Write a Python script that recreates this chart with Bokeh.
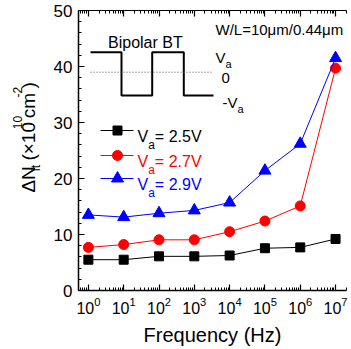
import math
from bokeh.plotting import figure
from bokeh.layouts import row
from bokeh.models import (Range1d, LogAxis, FixedTicker, Label, CustomJSTickFormatter)
from bokeh.core.properties import value
from bokeh.embed import file_html
from bokeh.resources import INLINE

# ---------------- data ----------------
freq_exp = [0, 1, 2, 3, 4, 5, 6, 7]
frequency = [10.0 ** k for k in freq_exp]
dn_25 = [5.5, 5.5, 6.1, 6.1, 6.25, 7.55, 7.7, 9.2]
dn_27 = [7.7, 8.2, 9.05, 9.05, 10.5, 12.4, 15.1, 39.7]
dn_29 = [13.5, 13.1, 13.8, 14.3, 15.7, 21.4, 26.2, 41.5]
series_values = [dn_25, dn_27, dn_29]
series_labels = ["2.5V", "2.7V", "2.9V"]
series_colors = ["black", "red", "blue"]
series_markers = ["square", "circle", "triangle"]
series_sizes = [9, 10, 12]
y_ticks = [0, 10, 20, 30, 40, 50]
y_minor = [2, 4, 6, 8, 12, 14, 16, 18, 22, 24, 26, 28, 32, 34, 36, 38, 42, 44, 46, 48]
x_minor = [m * 10.0 ** k for k in range(-1, 8) for m in range(2, 10)]

FONT = "Liberation Sans"

# ---------------- layout geometry (pixels) ----------------
W, H = 351, 349
LW = 50                 # width of the left strip holding the y title
FX0, FX1 = 78, 346      # frame left / right (page coordinates)
FY0, FY1 = 10, 290      # frame top / bottom
LX0, LX1 = -0.28, 7.31  # log10 range of x
Y0, Y1 = 0, 50


def xd(px):
    return 10 ** (LX0 + (px - FX0) / (FX1 - FX0) * (LX1 - LX0))


def yd(py):
    return Y0 + (FY1 - py) / (FY1 - FY0) * (Y1 - Y0)


CW = {' ': .278, '(': .333, ')': .333, '-': .333, '.': .278, '/': .278, '=': .584,
      '×': .584, 'Δ': .668, 'N': .722, 'V': .667, 'a': .556, 'c': .5, 'm': .833,
      'i': .222, 't': .278, 'W': .944, 'L': .556, 'μ': .576, 'B': .667, 'p': .556,
      'o': .556, 'l': .222, 'r': .333, 'T': .611}


def tw(s, size):
    return sum(CW.get(ch, .556) for ch in s) * size


p = figure(width=W - LW, height=H, x_axis_type="log",
           x_range=Range1d(10 ** LX0, 10 ** LX1), y_range=Range1d(Y0, Y1),
           output_backend="svg", toolbar_location=None,
           min_border_left=FX0 - LW, min_border_right=W - FX1,
           min_border_top=FY0, min_border_bottom=H - FY1)
p.outline_line_color = None
p.xgrid.visible = False
p.ygrid.visible = False
p.background_fill_color = "white"
p.border_fill_color = "white"


def style_axis(ax):
    ax.axis_line_color = "black"
    ax.axis_line_width = 1.5
    ax.major_tick_line_color = "black"
    ax.minor_tick_line_color = "black"
    ax.major_tick_line_width = 1.2
    ax.major_tick_in = 6
    ax.major_tick_out = 0
    ax.minor_tick_in = 3
    ax.minor_tick_out = 0
    ax.major_label_text_font = FONT
    ax.major_label_text_color = "black"


xt = FixedTicker(ticks=frequency, minor_ticks=x_minor)
xa = p.xaxis[0]
xa.ticker = xt
style_axis(xa)
xa.major_label_text_font_size = "16px"
xa.major_label_standoff = 6
xa.axis_label = "Frequency (Hz)"
xa.axis_label_text_font = FONT
xa.axis_label_text_font_size = "20px"
xa.axis_label_text_font_style = "normal"
xa.axis_label_text_color = "black"
xa.axis_label_standoff = 7

ya = p.yaxis[0]
ya.ticker = FixedTicker(ticks=y_ticks, minor_ticks=y_minor)
style_axis(ya)
ya.major_label_text_font_size = "17px"
ya.major_label_standoff = 6

top = LogAxis(ticker=xt, formatter=CustomJSTickFormatter(code="return ''"))
style_axis(top)
top.axis_line_width = 1.2
top.major_label_standoff = 0
p.add_layout(top, "above")

# ---------------- data series ----------------
for vals, col, mk, sz in zip(series_values, series_colors, series_markers, series_sizes):
    p.line(frequency, vals, line_color=col, line_width=1)
    p.scatter(frequency, vals, marker=mk, size=sz, fill_color=col, line_color=col)


def add_text(text, px, py, size, color="black"):
    p.add_layout(Label(x=xd(px), y=yd(py), text=text, text_font=FONT,
                       text_font_size=f"{size}px", text_color=color,
                       text_align="left", text_baseline="alphabetic"))


def add_runs(pieces, px, py, color="black"):
    """pieces: (text, size, baseline shift in px; positive = lower)"""
    pos = 0.0
    for text, size, shift in pieces:
        add_text(text, px + pos, py + shift, size, color)
        pos += tw(text, size)


# ---------------- legend ----------------
legend_rows = [130, 155, 178]
for lab, col, mk, sz, ry in zip(series_labels, series_colors, series_markers, series_sizes, legend_rows):
    p.line([xd(100), xd(133)], [yd(ry), yd(ry)], line_color=col, line_width=1)
    p.scatter([xd(117)], [yd(ry)], marker=mk, size=sz, fill_color=col, line_color=col)
    add_runs([("V", 16, 0), ("a", 12, 8), (" = " + lab, 16, 0)], 137, ry + 6, color=col)

# ---------------- inset: bipolar waveform ----------------
wave_px = [90, 121, 121, 151.7, 151.7, 183.3, 183.3, 213]
wave_py = [51.7, 51.7, 95, 95, 51.7, 51.7, 95, 95]
p.line([xd(v) for v in wave_px], [yd(v) for v in wave_py], line_color="black", line_width=2)
p.line([xd(90), xd(211)], [yd(71.7), yd(71.7)], line_color="#555555", line_width=1,
       line_dash="1 2")
add_text("Bipolar BT", 107.5, 42, 16)
add_runs([("V", 15, 0), ("a", 11, 6)], 215, 57)
add_text("0", 221, 77, 15)
add_runs([("-V", 15, 0), ("a", 11, 6)], 222, 102)
add_text("W/L=10μm/0.44μm", 215, 29, 15)

# ---------------- y-axis title (left strip) ----------------
s = figure(width=LW, height=H, x_range=Range1d(0, LW), y_range=Range1d(0, H),
           output_backend="svg", toolbar_location=None,
           x_axis_location=None, y_axis_location=None,
           min_border_left=0, min_border_right=0, min_border_top=0, min_border_bottom=0)
s.outline_line_color = None
s.xgrid.visible = False
s.ygrid.visible = False
s.border_fill_color = "white"
s.background_fill_color = "white"

# (text, size, shift across baseline (+ = lower), extra gap before piece)
title_pieces = [("ΔN", 19, 0, 0), ("it", 12, 7, 0.5), ("(×10", 19, 0, 7),
                ("10", 12, -11, 0.5), ("cm", 19, 0, 0.5), ("-2", 12, -11, 0.5),
                (")", 19, 0, 0.5)]
tx, ty, tt, tsz = [], [], [], []
pos = 0.0
for text, size, shift, gap in title_pieces:
    pos += gap
    tx.append(28 + shift)
    ty.append(H - (227 - pos))
    tt.append(text)
    tsz.append(f"{size}px")
    pos += tw(text, size)
s.text(x=tx, y=ty, text=tt, text_font_size=tsz, angle=math.pi / 2,
       text_font=value(FONT), text_color="black",
       text_align="left", text_baseline="alphabetic")

open("out.html", "w").write(file_html(row(s, p, spacing=0), INLINE))
